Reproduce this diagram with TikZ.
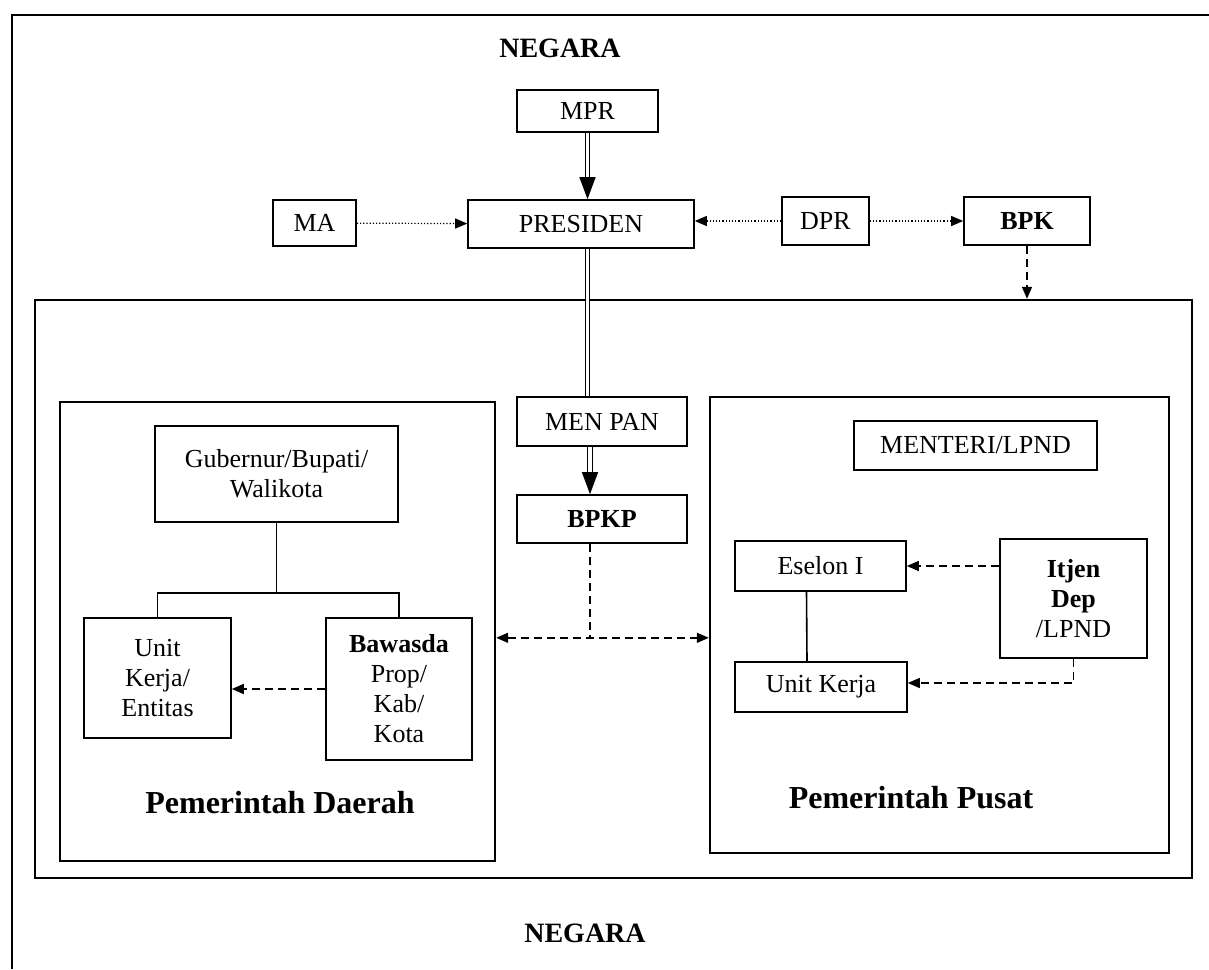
\documentclass[tikz,border=0pt]{standalone}
\usepackage{fontspec}
\setmainfont{Liberation Serif}
\usetikzlibrary{arrows.meta, positioning}

\begin{document}
\begin{tikzpicture}[
  x=0.5pt, y=-0.5pt,
  box/.style={draw, line width=0.8pt, rectangle, inner sep=2pt, align=center,
    font=\fontsize{13}{15}\selectfont},
  bbox/.style={box, font=\fontsize{13}{15}\selectfont\bfseries},
  panel/.style={draw, line width=1.2pt, rectangle, inner sep=0pt},
  title/.style={font=\fontsize{16}{18}\selectfont\bfseries},
  dbl/.style={double, double distance=1.6pt, line width=0.6pt},
  dotline/.style={line width=0.6pt, densely dotted},
  dashline/.style={line width=0.8pt, dash pattern=on 4pt off 2.5pt},
  >={Triangle[length=6pt, width=5pt]}
]
  \useasboundingbox (0,0) rectangle (1209,969);
  \draw[line width=1.2pt] (12,969) -- (12,15) -- (1209,15);

  % top level
  \node[title, font=\fontsize{14}{16}\selectfont\bfseries] (negtop) at (560,48) {NEGARA};
  \node[box, minimum width=70.5pt, minimum height=21pt] (mpr) at (587.5,111) {MPR};
  \node[box, minimum width=41.5pt, minimum height=23pt] (ma) at (314.5,223) {MA};
  \node[box, minimum width=113pt, minimum height=24pt] (pres) at (581,224) {PRESIDEN};
  \node[box, minimum width=43.5pt, minimum height=24pt] (dpr) at (825.5,221) {DPR};
  \node[bbox, minimum width=63pt, minimum height=24pt] (bpk) at (1027,221) {BPK};

  % frames
  \node[panel, minimum width=578.5pt, minimum height=289pt] (negin) at (613.5,589) {};
  \node[panel, minimum width=217.5pt, minimum height=229.5pt] (daerah) at (277.5,631.5) {};
  \node[panel, minimum width=229.5pt, minimum height=228pt] (pusat) at (939.5,625) {};

  % middle
  \node[box, minimum width=85pt, minimum height=24.5pt] (menpan) at (602,421.5) {MEN PAN};
  \node[bbox, minimum width=85pt, minimum height=24pt] (bpkp) at (602,519) {BPKP};

  % pemerintah daerah
  \node[box, minimum width=121.5pt, minimum height=48pt] (gub) at (276.5,474) {Gubernur/Bupati/\\Walikota};
  \node[box, minimum width=73.5pt, minimum height=60pt] (unitent) at (157.5,678) {Unit\\Kerja/\\Entitas};
  \node[box, minimum width=73pt, minimum height=71pt] (bawasda) at (399,689) {\textbf{Bawasda}\\Prop/\\Kab/\\Kota};
  \node[title] (ldaerah) at (280,803) {Pemerintah Daerah};

  % pemerintah pusat
  \node[box, minimum width=121.5pt, minimum height=24.5pt] (menteri) at (975.5,445.5) {MENTERI/LPND};
  \node[box, minimum width=85.5pt, minimum height=25pt] (eselon) at (820.5,566) {Eselon I};
  \node[box, minimum width=86pt, minimum height=25pt] (unitkerja) at (821,687) {Unit Kerja};
  \node[bbox, minimum width=73.5pt, minimum height=59.5pt] (itjen) at (1073.5,598.5) {Itjen\\Dep\\\textmd{/LPND}};
  \node[title] (lpusat) at (911,798) {Pemerintah Pusat};

  \node[title, font=\fontsize{14}{16}\selectfont\bfseries] (negbot) at (585,933) {NEGARA};

  % connectors
  \draw[dbl, -{Triangle[length=11pt, width=8pt]}] (mpr.south) -- (mpr.south |- pres.north);
  \draw[dotline, ->] (ma) -- (pres);
  \draw[dotline, ->] (dpr.west) -- (dpr.west -| pres.east);
  \draw[dotline, ->] (dpr) -- (bpk);
  \draw[dashline, ->] (bpk.south) -- (bpk.south |- negin.north);
  \draw[dbl] (mpr.south |- pres.south) -- (mpr.south |- menpan.north);
  \draw[dbl, -{Triangle[length=11pt, width=8pt]}] ([xshift=-6pt]menpan.south) -- ([xshift=-6pt]bpkp.north);
  \draw[dashline] ([xshift=-6pt]bpkp.south) -- ++(0,94) coordinate (jn);
  \draw[dashline, <->] (daerah.east |- jn) -- (pusat.west |- jn);

  \draw[line width=0.8pt] (gub.south) -- ++(0,70) coordinate (tr) -| (unitent.north);
  \draw[line width=0.8pt] (tr) -| (bawasda.north);
  \draw[dashline, ->] (bawasda.west) -- (bawasda.west -| unitent.east);

  \draw[line width=0.8pt] ([xshift=-7pt]eselon.south) -- ([xshift=-7pt]unitkerja.north);
  \draw[dashline, ->] (itjen.west |- eselon) -- (eselon.east);
  \draw[dashline, ->] (itjen.south) |- ([yshift=2pt]unitkerja.east);
\end{tikzpicture}
\end{document}
